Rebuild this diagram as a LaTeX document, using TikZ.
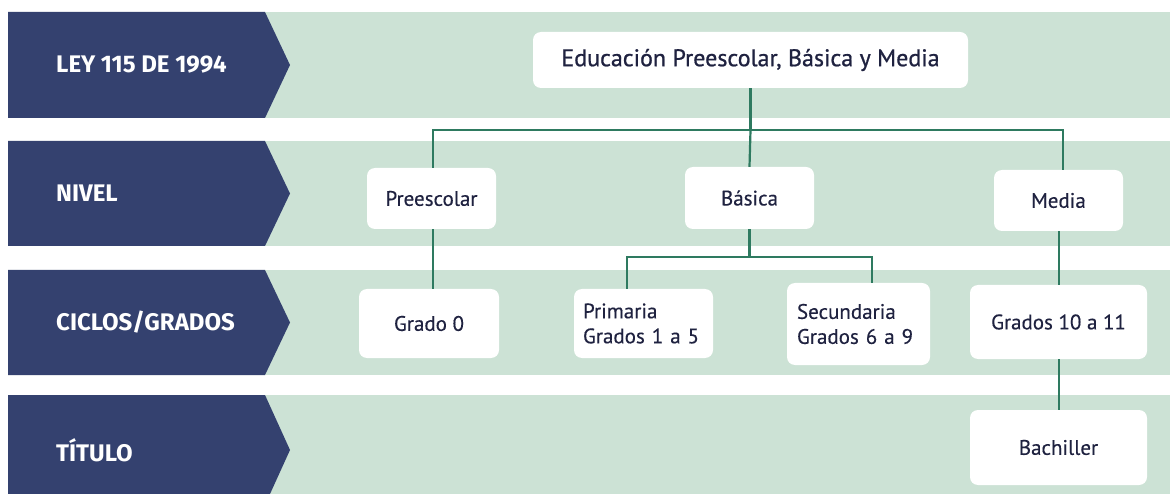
\documentclass[tikz,border=0pt]{standalone}
\usepackage{fontspec}
\setmainfont[FakeBold=0.3]{PT Sans}
\newfontfamily\lblfont{Fira Sans}
\newfontfamily\hdfont[FakeBold=0.8]{PT Sans}
\usetikzlibrary{calc}
\definecolor{navy}{HTML}{34416F}
\definecolor{band}{HTML}{CCE2D5}
\definecolor{conn}{HTML}{2E7A60}
\definecolor{txt}{HTML}{1F2240}
\tikzset{
  lbl/.style={anchor=west, text=white, font=\lblfont\bfseries\fontsize{24}{28}\selectfont, inner sep=0pt},
  box/.style={fill=white, rounded corners=8pt, inner sep=0pt, text=txt, font=\fontsize{21}{25}\selectfont},
  conline/.style={draw=conn, line width=2.2pt}
}
\begin{document}
\begin{tikzpicture}[x=1pt,y=-1pt]
\useasboundingbox (0,0) rectangle (1170,494);
\fill[white] (0,0) rectangle (1170,494);
\clip (0,0) rectangle (1170,494);
\foreach \t/\b/\lab/\nm in {12/118/{LEY 115 DE 1994}/l1, 141/246/{NIVEL}/l2, 270/375/{CICLOS/GRADOS}/l3, 395/505/{TÍTULO}/l4}{
  \fill[band] (265,\t) rectangle (1170,\b);
  \fill[navy] (8,\t) -- (265,\t) -- (290,{(\t+\b)/2}) -- (265,\b) -- (8,\b) -- cycle;
  \node[lbl] (\nm) at (56,{(\t+\b)/2}) {\lab};
}
% boxes
\node[box, minimum width=435pt, minimum height=56pt, font=\hdfont\fontsize{24}{28}\selectfont] (top) at (750.5,60) {Educación Preescolar, Básica y Media};
\node[box, minimum width=129pt, minimum height=61pt] (pre) at (431.5,198.5) {Preescolar};
\node[box, minimum width=129pt, minimum height=62pt] (bas) at (749.5,198) {Básica};
\node[box, minimum width=129pt, minimum height=61pt] (med) at (1058.5,200.5) {Media};
\node[box, minimum width=140pt, minimum height=69pt] (g0) at (429,323.5) {Grado 0};
\node[box, inner xsep=9pt, text width=121pt, align=left, minimum height=69pt] (pri) at (643.5,323.5) {Primaria\\Grados 1 a 5};
\node[box, inner xsep=10pt, text width=123pt, align=left, minimum height=82pt] (sec) at (858.5,324) {Secundaria\\Grados 6 a 9};
\node[box, minimum width=177pt, minimum height=74pt] (g11) at (1058.5,322) {Grados 10 a 11};
\node[box, minimum width=177pt, minimum height=75pt] (bach) at (1058.5,447.5) {Bachiller};
% connectors
\coordinate (bus1) at (750,130);
\coordinate (bus2) at (750,257);
\draw[conline] (top.south) -- (top.south |- bus1);
\draw[conline] ([xshift=1.5pt]pre.north) |- (bus1) -| ([xshift=4.5pt]med.north);
\draw[conline] (top.south |- bus1) -- (bas.north);
\draw[conline] (bas.south) -- (bas.south |- bus2);
\draw[conline] ([xshift=-16.5pt]pri.north) |- (bus2) -| ([xshift=13.5pt]sec.north);
\draw[conline] ([xshift=1.5pt]pre.south) -- ([xshift=4pt]g0.north);
\draw[conline] ([xshift=0.5pt]med.south) -- ([xshift=0.5pt]g11.north);
\draw[conline] ([xshift=0.5pt]g11.south) -- ([xshift=0.5pt]bach.north);
\end{tikzpicture}
\end{document}
